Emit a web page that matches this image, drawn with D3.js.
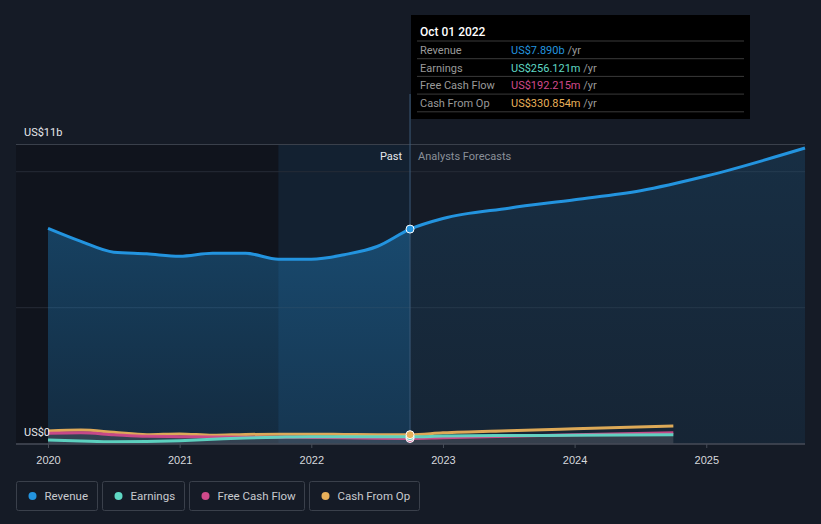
<!DOCTYPE html>
<html><head><meta charset="utf-8">
<script src="https://cdn.jsdelivr.net/npm/d3@7"></script>
<style>
html,body{margin:0;padding:0;background:#151b26;}
svg{display:block;font-family:Roboto,"Noto Sans",sans-serif;}
</style></head>
<body><svg id="c" width="821" height="524"></svg>
<script>
// ---- data (values in US$ billions, time as decimal years) ----
const revenueDates = [2020.0,2020.25,2020.5,2020.75,2021.0,2021.25,2021.5,2021.75,2022.0,2022.25,2022.5,2022.75,2023.0,2023.5,2024.0,2024.5,2025.0,2025.75];
const revenueValues = [7.92,7.44,7.04,6.98,6.89,7.0,7.0,6.78,6.78,6.95,7.25,7.89,8.28,8.66,8.97,9.3,9.84,10.87];
const smallDates = [2020.0,2020.25,2020.5,2020.75,2021.0,2021.25,2021.5,2021.75,2022.0,2022.25,2022.5,2022.75,2023.0,2023.5,2024.0,2024.75];
const earningsValues = [0.14,0.10,0.07,0.08,0.11,0.16,0.21,0.24,0.26,0.26,0.26,0.256,0.28,0.30,0.31,0.33];
const fcfValues      = [0.38,0.40,0.33,0.27,0.26,0.25,0.24,0.24,0.23,0.22,0.20,0.192,0.22,0.27,0.33,0.40];
const cfoValues      = [0.47,0.50,0.42,0.33,0.36,0.31,0.34,0.35,0.35,0.34,0.33,0.331,0.40,0.48,0.55,0.65];
const xTicks = [2020,2021,2022,2023,2024,2025];
const yTickLabels = [{v:11,t:"US$11b"},{v:0,t:"US$0"}];
const gridValues = [11,10,5];
const seriesNames = ["Revenue","Earnings","Free Cash Flow","Cash From Op"];
const seriesColors = ["#2394df","#5fd8c4","#d04a8b","#e8b05a"];
const tooltipDate = "Oct 01 2022";
const tooltipValues = ["US$7.890b","US$256.121m","US$192.215m","US$330.854m"];
const nowDate = 2022.75;
const highlightStart = 2021.75;

const svg = d3.select("#c");
const x = d3.scaleLinear().domain([2020, 2025.75]).range([48, 805]);
const y = d3.scaleLinear().domain([0, 11]).range([443.7, 144.5]);
const plotL = 16, plotR = 805, plotT = 144.5, plotB = 444;

const defs = svg.append("defs");
const g1 = defs.append("linearGradient").attr("id","revFill").attr("x1",0).attr("y1",0).attr("x2",0).attr("y2",1);
g1.append("stop").attr("offset","0%").attr("stop-color","#2394df").attr("stop-opacity",0.35);
g1.append("stop").attr("offset","100%").attr("stop-color","#2394df").attr("stop-opacity",0.18);
const g2 = defs.append("linearGradient").attr("id","revFillF").attr("x1",0).attr("y1",0).attr("x2",0).attr("y2",1);
g2.append("stop").attr("offset","0%").attr("stop-color","#2394df").attr("stop-opacity",0.16);
g2.append("stop").attr("offset","100%").attr("stop-color","#2394df").attr("stop-opacity",0.08);

// past shading
svg.append("rect").attr("x",plotL).attr("y",plotT).attr("width",x(nowDate)-plotL).attr("height",plotB-plotT).attr("fill","#0c0f15").attr("opacity",0.55);
svg.append("rect").attr("x",x(highlightStart)).attr("y",plotT).attr("width",x(nowDate)-x(highlightStart)).attr("height",plotB-plotT).attr("fill","#1a3a5a").attr("opacity",0.35);

// grid
svg.selectAll("line.grid").data(gridValues).enter().append("line")
  .attr("x1",plotL).attr("x2",plotR).attr("y1",d=>y(d)).attr("y2",d=>y(d))
  .attr("stroke",(d,i)=>i===0?"#3a404b":"#262c37").attr("stroke-width",1);

// revenue area
const revData = revenueDates.map((d,i)=>({d,v:revenueValues[i]}));
const area = d3.area().x(p=>x(p.d)).y0(y(0)).y1(p=>y(p.v)).curve(d3.curveMonotoneX);
const line = d3.line().x(p=>x(p.d)).y(p=>y(p.v)).curve(d3.curveMonotoneX);
const pastRev = revData.filter(p=>p.d<=nowDate);
const futRev = revData.filter(p=>p.d>=nowDate);
svg.append("path").attr("d",area(pastRev)).attr("fill","url(#revFill)");
svg.append("path").attr("d",area(futRev)).attr("fill","url(#revFillF)");

// now line
svg.append("line").attr("x1",x(nowDate)).attr("x2",x(nowDate)).attr("y1",94).attr("y2",plotB).attr("stroke","#3c5a78").attr("stroke-width",1);

// small series
const smallSets = [earningsValues, fcfValues, cfoValues];
const smallArea = d3.area().x(p=>x(p.d)).y0(y(0)).y1(p=>y(p.v)).curve(d3.curveMonotoneX);
svg.append("path").attr("d",smallArea(smallDates.map((d,i)=>({d,v:Math.max(earningsValues[i],fcfValues[i])})))).attr("fill","#5a5f68").attr("opacity",0.45);
[2,1,0].forEach(k=>{
  const vals = smallSets[k];
  const data = smallDates.map((d,i)=>({d,v:vals[i]}));
  svg.append("path").attr("d",line(data)).attr("fill","none").attr("stroke",seriesColors[k+1]).attr("stroke-width",3).attr("opacity",0.95);
});

// revenue line
svg.append("path").attr("d",line(revData)).attr("fill","none").attr("stroke","#2394df").attr("stroke-width",3);

// axis
svg.append("line").attr("x1",plotL).attr("x2",plotR).attr("y1",plotB).attr("y2",plotB).attr("stroke","#474d58").attr("stroke-width",1.5);
const xAxis = d3.axisBottom(x).tickValues(xTicks).tickFormat(d3.format("d")).tickSize(4).tickPadding(8);
const ax = svg.append("g").attr("transform",`translate(0,${plotB})`).call(xAxis);
ax.select(".domain").remove();
ax.selectAll(".tick line").attr("stroke","#474d58");
ax.selectAll(".tick text").attr("fill","#d6d8dc").attr("font-size",11);

// y labels
svg.selectAll("text.yl").data(yTickLabels).enter().append("text")
  .attr("x",24).attr("y",d=>d.v===0?y(0)-8:y(d.v)-9).attr("fill","#e6e8ec").attr("font-size",11).text(d=>d.t);

// past / forecast labels
svg.append("text").attr("x",x(nowDate)-8).attr("y",160).attr("text-anchor","end").attr("fill","#e6e8ec").attr("font-size",11).text("Past");
svg.append("text").attr("x",x(nowDate)+8).attr("y",160).attr("fill","#8a9099").attr("font-size",11).text("Analysts Forecasts");

// markers
const markerVals = [revenueValues[revenueDates.indexOf(nowDate)], fcfValues[smallDates.indexOf(nowDate)], earningsValues[smallDates.indexOf(nowDate)], cfoValues[smallDates.indexOf(nowDate)]];
[[2,markerVals[1]],[1,markerVals[2]],[3,markerVals[3]],[0,markerVals[0]]].forEach(([k,v])=>{
  svg.append("circle").attr("cx",x(nowDate)).attr("cy",y(v)).attr("r",4).attr("fill",seriesColors[k]).attr("stroke","#fff").attr("stroke-width",1);
});

// tooltip
const tt = svg.append("g").attr("transform","translate(411,15)");
tt.append("rect").attr("width",339).attr("height",104).attr("fill","#000");
tt.append("text").attr("x",9).attr("y",21).attr("fill","#fff").attr("font-size",12).attr("font-weight",500).text(tooltipDate);
seriesNames.forEach((n,i)=>{
  const yy = 26 + i*17.7;
  tt.append("line").attr("x1",6).attr("x2",333).attr("y1",yy).attr("y2",yy).attr("stroke","#3a3a3a");
  tt.append("text").attr("x",9).attr("y",yy+13).attr("fill","#9a9a9a").attr("font-size",11).text(n);
  const t = tt.append("text").attr("x",100).attr("y",yy+13).attr("font-size",11);
  t.append("tspan").attr("fill",seriesColors[i]).text(tooltipValues[i]);
  t.append("tspan").attr("fill","#9a9a9a").text(" /yr");
});
tt.append("line").attr("x1",6).attr("x2",333).attr("y1",26+4*17.7).attr("y2",26+4*17.7).attr("stroke","#3a3a3a");

// legend
const legW = [81,82,115,110];
let lx = 16.5;
seriesNames.forEach((n,i)=>{
  const lg = svg.append("g").attr("transform",`translate(${lx},481.5)`);
  lg.append("rect").attr("width",legW[i]).attr("height",29).attr("rx",2).attr("fill","none").attr("stroke","#3a404b");
  lg.append("circle").attr("cx",16).attr("cy",14.5).attr("r",4).attr("fill",seriesColors[i]);
  lg.append("text").attr("x",28).attr("y",18.5).attr("fill","#c8cacf").attr("font-size",11.5).text(n);
  lx += legW[i] + 5;
});
</script></body></html>
